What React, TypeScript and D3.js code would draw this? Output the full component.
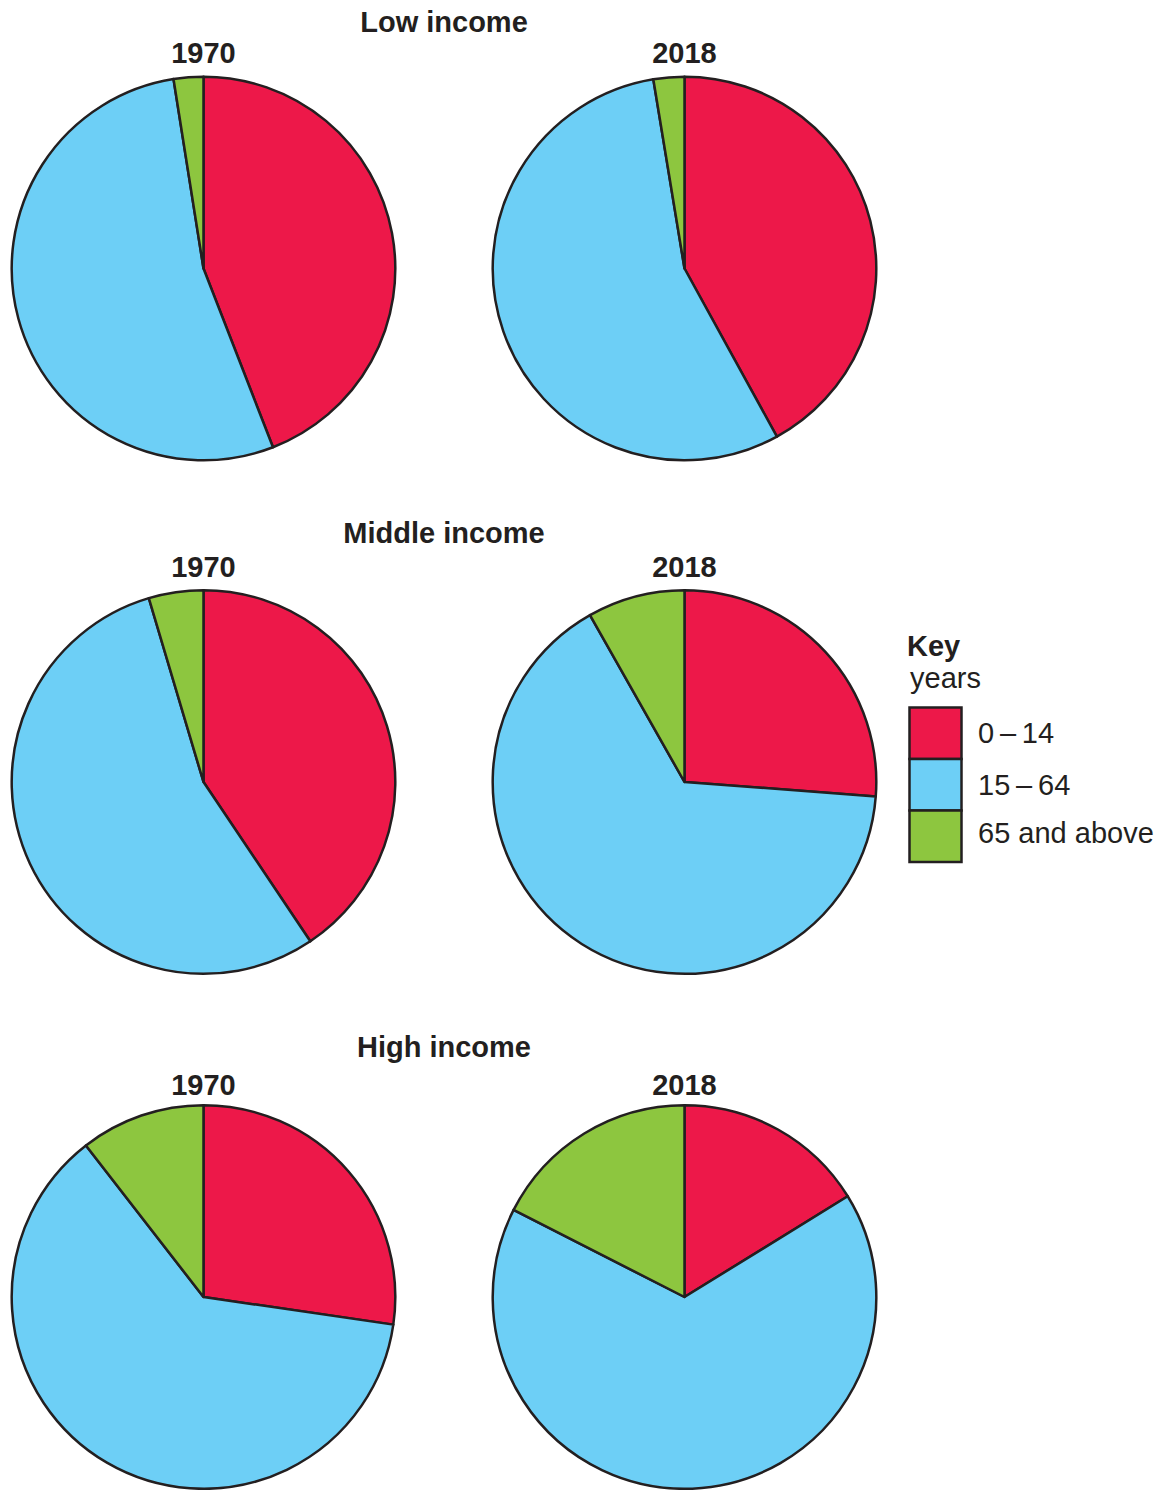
import React from "react";
import * as d3 from "d3";

// ---- data (percent of population) ----
const incomeGroups = ["Low income", "Middle income", "High income"];
const years = ["1970", "2018"];
const ageBands = ["0\u2009\u2013\u200914", "15\u2009\u2013\u200964", "65 and above"];
const bandColors = ["#ED1849", "#6DCFF6", "#8DC63F"];

// each array: [0–14, 15–64, 65 and above]
const low1970 = [44.1, 53.4, 2.5];
const low2018 = [42.0, 55.4, 2.6];
const middle1970 = [40.6, 54.8, 4.6];
const middle2018 = [26.2, 65.6, 8.2];
const high1970 = [27.3, 62.2, 10.5];
const high2018 = [16.2, 66.3, 17.5];

const pieData = [
  [low1970, low2018],
  [middle1970, middle2018],
  [high1970, high2018],
];

// ---- layout ----
const W = 1166;
const H = 1490;
const INK = "#231F20";
const FONT = "'Liberation Sans', Arial, Helvetica, sans-serif";
const colX = [203.5, 684.5];
const rowCY = [268.5, 782, 1297];
const titleY = [32.3, 543.3, 1056.7];
const yearY = [63.3, 577, 1095];
const R = 191.8;

export default function App() {
  const pie = d3
    .pie<number>()
    .sort(null)
    .value((d) => d);
  const arc = d3.arc<d3.PieArcDatum<number>>().innerRadius(0).outerRadius(R);

  const legendX = 909.5;
  const legendY = 707.5;
  const legendW = 52;
  const legendH = 51.5;
  const labelBaselines = [743, 795, 843];

  return (
    <svg
      width={W}
      height={H}
      viewBox={`0 0 ${W} ${H}`}
      style={{ position: "absolute", left: 0, top: 0, background: "#fff" }}
      fontFamily={FONT}
    >
      {incomeGroups.map((g, gi) => (
        <g key={g}>
          <text
            x={444}
            y={titleY[gi]}
            textAnchor="middle"
            fontWeight="bold"
            fontSize={29}
            fill={INK}
          >
            {g}
          </text>
          {years.map((yr, yi) => (
            <g key={yr}>
              <text
                x={colX[yi]}
                y={yearY[gi]}
                textAnchor="middle"
                fontWeight="bold"
                fontSize={29}
                fill={INK}
              >
                {yr}
              </text>
              <g transform={`translate(${colX[yi]},${rowCY[gi]})`}>
                {pie(pieData[gi][yi]).map((a, i) => (
                  <path
                    key={i}
                    d={arc(a) || ""}
                    fill={bandColors[i]}
                    stroke={INK}
                    strokeWidth={2.5}
                    strokeLinejoin="round"
                  />
                ))}
              </g>
            </g>
          ))}
        </g>
      ))}

      {/* Key */}
      <text x={907} y={656} fontWeight="bold" fontSize={29} fill={INK}>
        Key
      </text>
      <text x={910} y={688} fontSize={29} fill={INK}>
        years
      </text>
      {ageBands.map((b, i) => (
        <g key={b}>
          <rect
            x={legendX}
            y={legendY + i * legendH}
            width={legendW}
            height={legendH}
            fill={bandColors[i]}
            stroke={INK}
            strokeWidth={2.5}
          />
          <text x={978} y={labelBaselines[i]} fontSize={29} fill={INK}>
            {b}
          </text>
        </g>
      ))}
    </svg>
  );
}
